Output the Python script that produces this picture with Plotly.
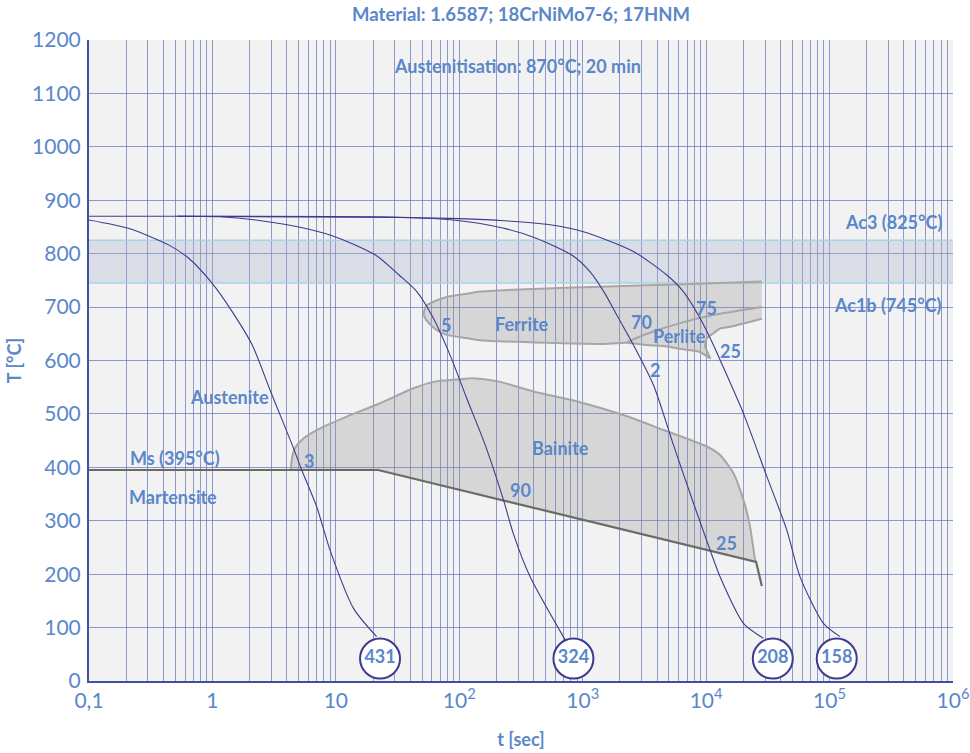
import math
import plotly.graph_objects as go

# ---------------- data (time in s, temperature in °C) ----------------
AUSTENITISATION_T = 870
AC3 = 825
AC1B = 745
MS = 395
T_MIN, T_MAX = 0.1, 1e6

hold_t = [0.1, 0.52]
hold_T = [870, 870]

c431_t = [0.1, 0.211, 0.445, 0.646, 1.0, 1.45, 2.10, 2.96, 4.43, 5.29, 7.0, 8.97, 13.9, 21.4]
c431_T = [863, 847, 816, 791, 744, 691, 629, 542, 442, 395, 326, 245, 136, 83]

c324_t = [0.52, 1.15, 2.24, 5.70, 10.6, 21.1, 32.5, 45.3, 61.7, 84.2, 115, 162, 228, 274, 375, 720]
c324_T = [870, 869, 863, 847, 829, 797, 760, 729, 679, 610, 529, 442, 339, 276, 195, 77]

c208_t = [0.52, 20.4, 88.5, 225, 419, 832, 1148, 1490, 1889, 2575, 3741, 5433, 7413, 10770,
          12970, 20040, 29110]
c208_T = [870, 869, 863, 848, 829, 796, 766, 728, 685, 629, 554, 442, 351, 245,
          195, 108, 80]

c158_t = [0.52, 33.1, 84.1, 214, 544, 1014, 2575, 4800, 6540, 8930, 11450, 12970, 20040,
          31000, 44980, 57670, 89130, 121800]
c158_T = [870, 868, 866, 862, 854, 841, 804, 760, 729, 679, 629, 601, 501,
          383, 283, 195, 108, 83]

circle_t = [22.8, 841, 34670, 114300]
circle_T = [42, 42, 42, 42]
circle_labels = ["431", "324", "208", "158"]

ms_t = [0.1, 22.0, 25410, 28250]
ms_T = [395, 395, 223, 178]

bain_t = [4.31, 4.42, 4.67, 5.45, 7.45, 12.25, 22.8, 42.4, 61.7, 101.4, 130, 214, 398, 952,
          2138, 4509, 10140, 12970, 16640, 20040, 22700, 24930, 25410]
bain_T = [395, 418, 436, 454, 473, 495, 520, 548, 560, 565, 567, 560, 542, 522,
          498, 470, 439, 423, 389, 339, 289, 227, 223]

fp_top_t = [51.2, 53.8, 61.7, 79.2, 115, 147.5, 398, 1384, 3311, 12970, 28250]
fp_top_T = [687, 702, 710, 719, 725, 729, 734, 738, 741, 745, 748]
fp_bot_t = [51.2, 54.6, 65.8, 79.2, 115, 147.5, 512, 1384, 2276, 3311, 4800, 6150, 8930,
            10770, 9820, 10140, 11450, 12970, 15640, 28250]
fp_bot_T = [687, 674, 657, 648, 642, 638, 633, 631, 633, 629, 626, 622, 616,
            604, 626, 642, 651, 660, 663, 678]
perl_t = [2276, 3311, 6150, 11450, 28250]
perl_T = [634, 650, 670, 685, 700]

decade_vals = [0.1, 1, 10, 100, 1000, 1e4, 1e5, 1e6]
decade_text = ["0,1", "1", "10", "10<sup>2</sup>", "10<sup>3</sup>", "10<sup>4</sup>",
               "10<sup>5</sup>", "10<sup>6</sup>"]
y_ticks = list(range(0, 1300, 100))

# labels: (text, t, T, anchor)
labels = [
    ("Austenitisation: 870°C; 20 min", 294, 1151, "center"),
    ("Ac3 (825°C)", 8.4e5, 859, "right"),
    ("Ac1b (745°C)", 8.4e5, 704, "right"),
    ("Ferrite", 324, 668, "center"),
    ("Perlite", 6080, 645, "center"),
    ("Austenite", 1.38, 532, "center"),
    ("Bainite", 656, 436, "center"),
    ("Ms (395°C)", 0.498, 417, "center"),
    ("Martensite", 0.482, 345, "center"),
    ("3", 6.03, 412, "center"),
    ("5", 77.8, 667, "center"),
    ("90", 311, 358, "center"),
    ("70", 3013, 672, "center"),
    ("2", 3882, 582, "center"),
    ("75", 10120, 698, "center"),
    ("25", 15850, 617, "center"),
    ("25", 14690, 258, "center"),
]

# ---------------- styles ----------------
FONT = "Lato, 'Open Sans', sans-serif"
TXT = "#5a87c9"
NAVY = "#3e3a8e"
GRID = "rgba(90,110,185,0.68)"
AXIS = "#3f51a3"
REG_FILL = "rgba(150,150,150,0.30)"
REG_LINE = "#a6a6a6"

fig = go.Figure()

# Ac1b - Ac3 band
fig.add_trace(go.Scatter(x=[T_MIN, T_MAX, T_MAX, T_MIN], y=[AC1B, AC1B, AC3, AC3],
                         fill="toself", fillcolor="rgba(170,178,205,0.32)",
                         line=dict(width=0), mode="lines", hoverinfo="skip"))
for v in (AC1B, AC3):
    fig.add_trace(go.Scatter(x=[T_MIN, T_MAX], y=[v, v], mode="lines",
                             line=dict(color="#a9d3e0", width=1.5), hoverinfo="skip"))

# Ferrite + perlite region
fp_poly_t = fp_top_t + fp_bot_t[::-1]
fp_poly_T = fp_top_T + fp_bot_T[::-1]
fig.add_trace(go.Scatter(x=fp_poly_t, y=fp_poly_T, fill="toself", fillcolor=REG_FILL,
                         line=dict(width=0), mode="lines", hoverinfo="skip"))
for xs, ys in ((fp_top_t, fp_top_T), (fp_bot_t, fp_bot_T), (perl_t, perl_T)):
    fig.add_trace(go.Scatter(x=xs, y=ys, mode="lines",
                             line=dict(color=REG_LINE, width=2, shape="spline", smoothing=0.6),
                             hoverinfo="skip"))

# Bainite region
b_poly_t = bain_t + [ms_t[1]]
b_poly_T = bain_T + [MS]
fig.add_trace(go.Scatter(x=b_poly_t, y=b_poly_T, fill="toself", fillcolor=REG_FILL,
                         line=dict(width=0), mode="lines", hoverinfo="skip"))
fig.add_trace(go.Scatter(x=bain_t, y=bain_T, mode="lines",
                         line=dict(color=REG_LINE, width=2, shape="spline", smoothing=0.6),
                         hoverinfo="skip"))

# Ms / martensite line
fig.add_trace(go.Scatter(x=ms_t, y=ms_T, mode="lines",
                         line=dict(color="#6b6b66", width=2.2), hoverinfo="skip"))

# cooling curves
fig.add_trace(go.Scatter(x=hold_t, y=hold_T, mode="lines",
                         line=dict(color=NAVY, width=1.1), hoverinfo="skip"))
for xs, ys in ((c431_t, c431_T), (c324_t, c324_T), (c208_t, c208_T), (c158_t, c158_T)):
    fig.add_trace(go.Scatter(x=xs, y=ys, mode="lines",
                             line=dict(color=NAVY, width=1.1, shape="spline", smoothing=0.7),
                             hoverinfo="skip"))

# hardness circles
fig.add_trace(go.Scatter(x=circle_t, y=circle_T, mode="markers+text", text=circle_labels,
                         textposition="middle center",
                         textfont=dict(family=FONT, size=18, color=TXT, weight="bold"),
                         marker=dict(size=40, color="white", line=dict(color=NAVY, width=2)),
                         hoverinfo="skip", cliponaxis=False))

for text, t, T, anchor in labels:
    fig.add_annotation(x=math.log10(t), y=T, xref="x", yref="y", text=text, showarrow=False,
                       xanchor=anchor, yanchor="middle",
                       font=dict(family=FONT, size=18, color=TXT, weight="bold"))

# x gridlines at every 1..9 x 10^k
x_tickvals, x_ticktext = [], []
for k in range(-1, 6):
    for m in range(1, 10):
        v = m * 10 ** k
        x_tickvals.append(v)
        x_ticktext.append(decade_text[decade_vals.index(v)] if m == 1 else "")
x_tickvals.append(1e6)
x_ticktext.append(decade_text[-1])

FIG_W, FIG_H = 970, 753

fig.update_layout(
    width=FIG_W, height=FIG_H,
    margin=dict(l=89, r=17, t=40, b=72, autoexpand=False),
    plot_bgcolor="#f2f2f2", paper_bgcolor="white",
    showlegend=False,
    font=dict(family=FONT, color=TXT),
    title=dict(text="Material: 1.6587; 18CrNiMo7-6; 17HNM", x=0.5, xref="paper",
               xanchor="center", y=1 - 15 / FIG_H, yref="container", yanchor="middle",
               font=dict(family=FONT, size=18.5, color=TXT, weight="bold")),
    xaxis=dict(type="log", range=[-1, 6], tickmode="array", tickvals=x_tickvals,
               ticktext=x_ticktext, showgrid=True, gridcolor=GRID, gridwidth=1,
               showline=True, linecolor=AXIS, linewidth=2, ticks="", zeroline=False,
               automargin=False, ticklabeloverflow="allow",
               tickfont=dict(family=FONT, size=21, color=TXT),
               title=dict(text="t [sec]", standoff=22,
                          font=dict(family=FONT, size=18, color=TXT, weight="bold"))),
    yaxis=dict(range=[0, 1200], tickmode="array", tickvals=y_ticks,
               showgrid=True, gridcolor=GRID, gridwidth=1, zeroline=False,
               showline=True, linecolor=AXIS, linewidth=2, ticks="", automargin=False,
               ticklabelstandoff=2,
               tickfont=dict(family=FONT, size=21, color=TXT),
               title=dict(text="T [°C]", standoff=6,
                          font=dict(family=FONT, size=18, color=TXT, weight="bold"))),
)

# remove the default 8 px page margin so the 970x753 figure fills the window
fig.write_html("out.html",
               config={"displayModeBar": False},
               post_script="document.body.style.margin='0';"
                           "document.body.style.overflow='hidden';")
